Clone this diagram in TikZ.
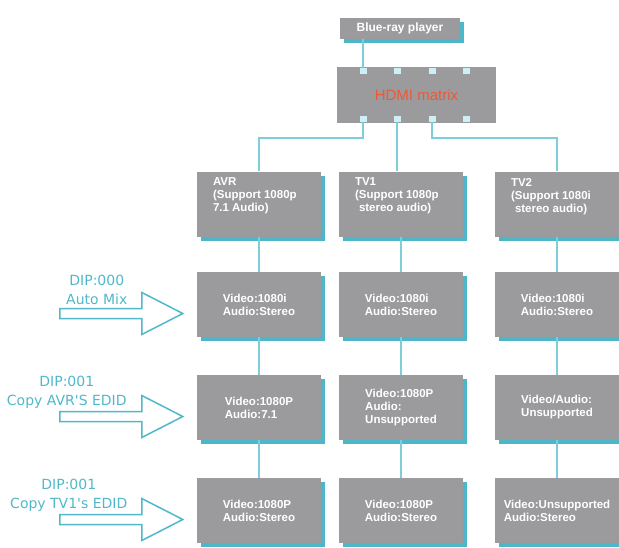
\documentclass[tikz,border=0pt]{standalone}
\usepackage{fontspec}
\setmainfont{Liberation Sans}
\newfontfamily\dipfont{DejaVu Sans}
\usetikzlibrary{calc}
\usetikzlibrary{shadows}
\definecolor{boxgray}{RGB}{155,155,158}
\definecolor{shadowcyan}{RGB}{77,182,200}
\definecolor{linecyan}{RGB}{125,205,218}
\definecolor{dipcyan}{RGB}{80,184,201}
\definecolor{portcyan}{RGB}{205,240,246}
\definecolor{hdmired}{RGB}{238,88,52}
\newcommand{\widthbox}{124pt}
\newcommand{\heightbox}{65pt}
\newcommand{\toptext}[1]{\parbox[c][52pt][t]{92pt}{#1}}
\tikzset{
    common/.style={fill=boxgray, text=white, inner sep=0pt},
    cyanshadow/.style={general shadow={fill=shadowcyan, shadow xshift=4pt, shadow yshift=-4pt}},
    device/.style={common, cyanshadow, minimum width=\widthbox, minimum height=\heightbox,
        align=left, font=\bfseries\fontsize{11.5}{13}\selectfont},
    source/.style={common, cyanshadow, minimum width=120pt, minimum height=21pt,
        font=\bfseries\fontsize{12}{14}\selectfont},
    switchbox/.style={common, text=hdmired, minimum width=159pt, minimum height=56pt,
        font=\fontsize{15}{17}\selectfont},
    port/.style={fill=portcyan, minimum width=7pt, minimum height=6pt, inner sep=0pt},
    link/.style={draw=linecyan, line width=1.5pt},
    diparrow/.style={draw=dipcyan, line width=1.5pt, fill=white, line join=miter},
    diplabel/.style={text=dipcyan, align=center, inner sep=0pt,
        font=\dipfont\fontsize{14}{19}\selectfont},
    dip arrow/.pic={
        \draw[diparrow] (0,0) -- (-41,-21) -- (-41,-5) -- (-123,-5)
            -- (-123,5) -- (-41,5) -- (-41,21) -- cycle;
    }
}

\begin{document}
\begin{tikzpicture}[x=1pt, y=-1pt]
    \useasboundingbox (0,0) rectangle (619,547);

    % source and matrix
    \node[source] (player) at (400,28.5) {Blue-ray player};
    \node[switchbox] (hdmi) at (416.5,95) {HDMI matrix};

    % displays
    \node[device] (avr) at (259,204) {\toptext{AVR\\(Support 1080p\\7.1 Audio)}};
    \node[device] (tv1) at (401,204) {\toptext{TV1\\(Support 1080p\\\hspace*{4pt}stereo audio)}};
    \node[device] (tv2) at (557,204) {\toptext{TV2\\(Support 1080i\\\hspace*{4pt}stereo audio)}};

    \node[device] (avr-1) at (259,304.5) {Video:1080i\\Audio:Stereo};
    \node[device] (tv1-1) at (401,304.5) {Video:1080i\\Audio:Stereo};
    \node[device] (tv2-1) at (557,304.5) {Video:1080i\\Audio:Stereo};

    \node[device] (avr-2) at (259,407.5) {Video:1080P\\Audio:7.1};
    \node[device] (tv1-2) at (401,407.5) {Video:1080P\\Audio:\\Unsupported};
    \node[device] (tv2-2) at (557,407.5) {Video/Audio:\\Unsupported};

    \node[device] (avr-3) at (259,510.5) {Video:1080P\\Audio:Stereo};
    \node[device] (tv1-3) at (401,510.5) {Video:1080P\\Audio:Stereo};
    \node[device] (tv2-3) at (557,510.5) {Video:Unsupported\\Audio:Stereo};

    % ports on the matrix
    \foreach \i/\x in {1/363,2/397,3/432,4/466} {
        \node[port] (in-\i) at (\x,71) {};
        \node[port] (out-\i) at (\x,119) {};
    }

    % wiring
    \draw[link] (in-1.north) -- (in-1.north |- player.south);
    \draw[link] (out-1.south) -- ++(0,16) -| (avr.north);
    \draw[link] (out-2.south) -- (out-2.south |- tv1.north);
    \draw[link] (out-3.south) -- ++(0,16) -| (tv2.north);
    \foreach \d in {avr,tv1,tv2} {
        \draw[link] (\d) -- (\d-1);
        \draw[link] (\d-1) -- (\d-2);
        \draw[link] (\d-2) -- (\d-3);
    }

    % dip switch settings
    \coordinate (tip-1) at ([shift={(-14,9)}]avr-1.west);
    \coordinate (tip-2) at ([shift={(-14,9)}]avr-2.west);
    \coordinate (tip-3) at ([shift={(-14,9)}]avr-3.west);
    \pic at (tip-1) {dip arrow};
    \pic at (tip-2) {dip arrow};
    \pic at (tip-3) {dip arrow};
    \node[diplabel] (dip-1) at ([shift={(-86,-24)}]tip-1) {DIP:000\\Auto Mix};
    \node[diplabel] (dip-2) at ([shift={(-116,-24)}]tip-2) {DIP:001\\Copy AVR'S EDID};
    \node[diplabel] (dip-3) at ([shift={(-114,-24)}]tip-3) {DIP:001\\Copy TV1's EDID};
\end{tikzpicture}
\end{document}
